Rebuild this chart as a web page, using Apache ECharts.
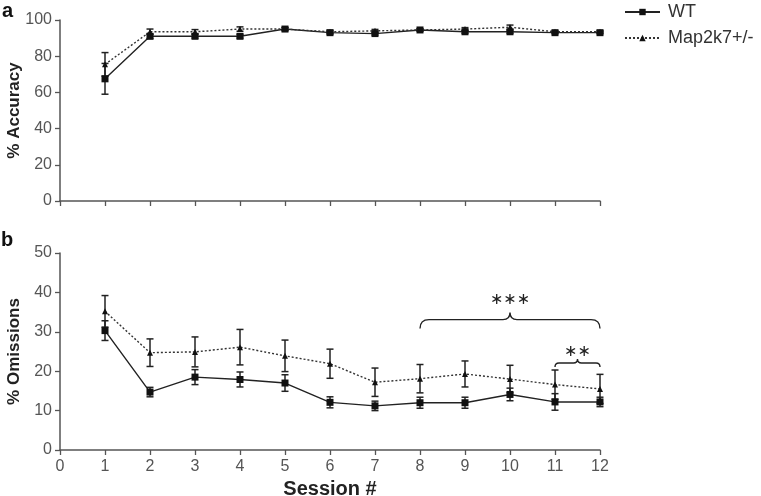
<!DOCTYPE html>
<html><head><meta charset="utf-8">
<script src="https://cdn.jsdelivr.net/npm/echarts@6/dist/echarts.min.js"></script>
<style>html,body{margin:0;padding:0;background:#fff}#c{width:761px;height:496px}</style>
</head><body><div id="c"></div>
<script>
const sessions = [1,2,3,4,5,6,7,8,9,10,11,12];
const accWT     = [67.5, 91, 91, 91, 95, 93, 92.5, 94.5, 93.5, 93.5, 93, 93];
const accWTErr  = [8.5, 1.2, 1, 1, 0.8, 0.8, 0.8, 0.6, 0.8, 0.8, 0.6, 0.6];
const accMap    = [75.5, 93.5, 93.5, 95, 95, 93.5, 94, 94.5, 95, 96, 93.5, 93.5];
const accMapErr = [6.5, 1.5, 1.2, 1.2, 0.8, 0.8, 0.8, 0.6, 0.8, 1.2, 0.6, 0.6];
const omWT      = [30.3, 14.7, 18.5, 17.9, 17.0, 12.1, 11.2, 12.0, 12.0, 14.1, 12.2, 12.2];
const omWTErr   = [2.5, 1.2, 1.9, 1.9, 2.1, 1.4, 1.2, 1.4, 1.4, 1.6, 2.1, 1.2];
const omMap     = [35.2, 24.7, 24.9, 26.1, 23.9, 21.9, 17.2, 18.1, 19.3, 18.0, 16.6, 15.5];
const omMapErr  = [4, 3.5, 3.8, 4.5, 4, 3.7, 3.6, 3.6, 3.3, 3.5, 3.7, 3.7];
// brace annotations: [xStart, xEnd, yLine, yText, label]
const braces = [[8, 12, 33.1, 38.2, '∗∗∗'], [11, 12, 22.1, 25.0, '∗∗']];

const F = 'Liberation Sans, Arial, sans-serif';
const axisColor = '#555';
const lab = '#555';

function pairs(ys){ return sessions.map((s,i)=>[s, ys[i]]); }
function errs(ys, es){ return sessions.map((s,i)=>[s, ys[i]-es[i], ys[i]+es[i]]); }

function errRender(params, api){
  const x = api.value(0);
  const lo = api.coord([x, api.value(1)]);
  const hi = api.coord([x, api.value(2)]);
  const w = 3.5;
  const st = {stroke:'#222', lineWidth:1.5};
  return {type:'group', children:[
    {type:'line', shape:{x1:lo[0],y1:lo[1],x2:hi[0],y2:hi[1]}, style:st},
    {type:'line', shape:{x1:lo[0]-w,y1:lo[1],x2:lo[0]+w,y2:lo[1]}, style:st},
    {type:'line', shape:{x1:hi[0]-w,y1:hi[1],x2:hi[0]+w,y2:hi[1]}, style:st}
  ]};
}
function braceRender(params, api){
  const a = api.coord([api.value(0), api.value(2)]);
  const b = api.coord([api.value(1), api.value(2)]);
  const t = api.coord([(api.value(0)+api.value(1))/2, api.value(3)]);
  const y = a[1], x1 = a[0], x2 = b[0], xm = (x1+x2)/2;
  const big = (x2-x1) > 100;
  const h = big ? 9 : 4, tip = big ? 7 : 4;
  const p = `M${x1},${y+h} Q${x1},${y} ${x1+h},${y} L${xm-tip},${y} Q${xm},${y} ${xm},${y-tip} Q${xm},${y} ${xm+tip},${y} L${x2-h},${y} Q${x2},${y} ${x2},${y+h}`;
  return {type:'group', children:[
    {type:'path', shape:{pathData:p}, style:{stroke:'#222', lineWidth:1.4, fill:null}},
    {type:'text', x:t[0], y:t[1], style:{text:api.value(4), font:'16px DejaVu Sans, sans-serif', fill:'#222', align:'center', verticalAlign:'middle'}}
  ]};
}

const xAxisBase = {type:'value', min:0, max:12, interval:1,
  axisLine:{lineStyle:{color:axisColor, width:1.5}},
  axisTick:{show:true, length:5, lineStyle:{color:axisColor, width:1.3}},
  splitLine:{show:false}};
const yAxisBase = {type:'value',
  axisLine:{show:true, lineStyle:{color:axisColor, width:1.5}},
  axisTick:{show:true, length:5, lineStyle:{color:axisColor, width:1.3}},
  axisLabel:{color:lab, fontSize:16, fontFamily:F, margin:8},
  splitLine:{show:false},
  nameLocation:'middle', nameGap:37, nameMoveOverlap:false,
  nameTextStyle:{fontSize:17, fontWeight:'bold', color:'#222', fontFamily:F}};

const chart = echarts.init(document.getElementById('c'));
chart.setOption({
  animation:false,
  textStyle:{fontFamily:F},
  title:[
    {text:'a', left:-3, top:-4, textStyle:{fontSize:20, fontWeight:'bold', color:'#111', fontFamily:F}},
    {text:'b', left:-4, top:225, textStyle:{fontSize:20, fontWeight:'bold', color:'#111', fontFamily:F}}
  ],
  legend:{orient:'vertical', left:619, top:-2, itemWidth:35, itemHeight:8, itemGap:8,
    textStyle:{fontSize:18, color:'#333', fontFamily:F, padding:[0,0,0,3]},
    data:['WT','Map2k7+/-']},
  grid:[
    {left:60, top:20, width:540, height:181, containLabel:false, outerBoundsMode:'none'},
    {left:60, top:253, width:540, height:197, containLabel:false, outerBoundsMode:'none'}
  ],
  xAxis:[
    Object.assign({}, xAxisBase, {gridIndex:0, axisLabel:{show:false}}),
    Object.assign({}, xAxisBase, {gridIndex:1, name:'Session #', nameLocation:'middle', nameGap:29, nameMoveOverlap:false,
      nameTextStyle:{fontSize:20, fontWeight:'bold', color:'#222', fontFamily:F},
      axisLabel:{color:lab, fontSize:16, fontFamily:F, margin:9}})
  ],
  yAxis:[
    Object.assign({}, yAxisBase, {gridIndex:0, min:0, max:100, interval:20, name:'% Accuracy'}),
    Object.assign({}, yAxisBase, {gridIndex:1, min:0, max:50, interval:10, name:'% Omissions'})
  ],
  series:[
    {type:'custom', xAxisIndex:0, yAxisIndex:0, renderItem:errRender, data:errs(accWT,accWTErr), z:2, silent:true},
    {type:'custom', xAxisIndex:0, yAxisIndex:0, renderItem:errRender, data:errs(accMap,accMapErr), z:2, silent:true},
    {type:'custom', xAxisIndex:1, yAxisIndex:1, renderItem:errRender, data:errs(omWT,omWTErr), z:2, silent:true},
    {type:'custom', xAxisIndex:1, yAxisIndex:1, renderItem:errRender, data:errs(omMap,omMapErr), z:2, silent:true},
    {name:'WT', type:'line', xAxisIndex:0, yAxisIndex:0, data:pairs(accWT), symbol:'rect', symbolSize:7,
      lineStyle:{color:'#222', width:1.4}, itemStyle:{color:'#111'}, z:3},
    {name:'Map2k7+/-', type:'line', xAxisIndex:0, yAxisIndex:0, data:pairs(accMap), symbol:'triangle', symbolSize:6,
      lineStyle:{color:'#333', width:1.4, type:[2,2]}, itemStyle:{color:'#111'}, z:3},
    {name:'WT', type:'line', xAxisIndex:1, yAxisIndex:1, data:pairs(omWT), symbol:'rect', symbolSize:7,
      lineStyle:{color:'#222', width:1.4}, itemStyle:{color:'#111'}, z:3},
    {name:'Map2k7+/-', type:'line', xAxisIndex:1, yAxisIndex:1, data:pairs(omMap), symbol:'triangle', symbolSize:6,
      lineStyle:{color:'#333', width:1.4, type:[2,2]}, itemStyle:{color:'#111'}, z:3},
    {type:'custom', xAxisIndex:1, yAxisIndex:1, renderItem:braceRender, data:braces, z:4, silent:true, clip:false}
  ]
});
</script></body></html>
